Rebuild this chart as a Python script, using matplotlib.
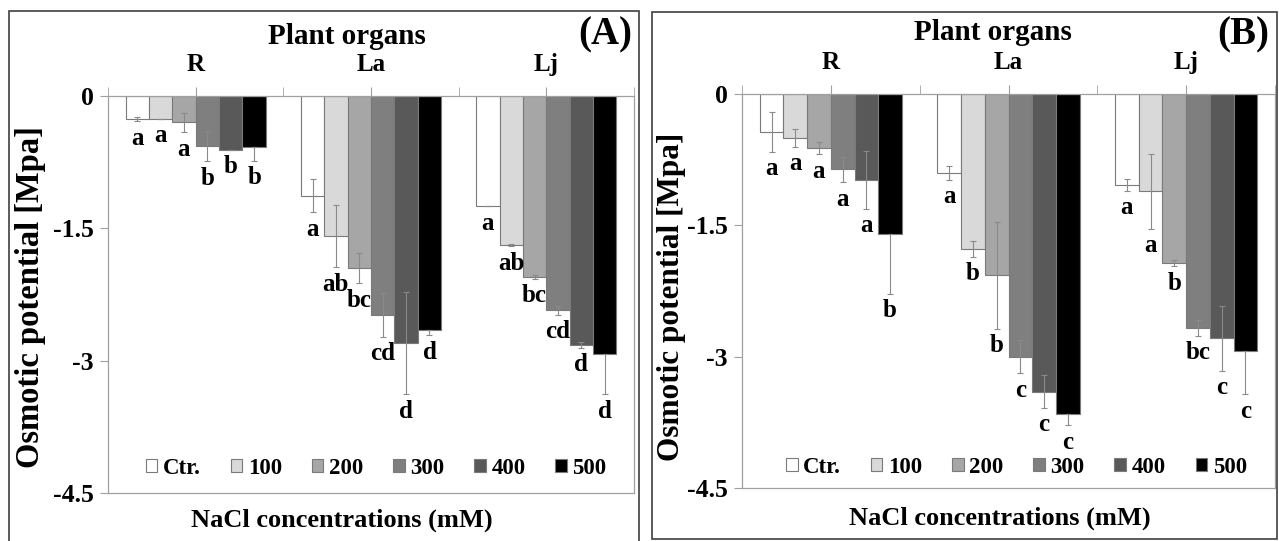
import matplotlib
matplotlib.use("Agg")
import matplotlib.pyplot as plt
from matplotlib.patches import Rectangle, Patch
import numpy as np

plt.rcParams['font.family'] = ['Liberation Serif', 'DejaVu Serif']
plt.rcParams['font.weight'] = 'bold'

groups = ['R', 'La', 'Lj']
conc = ['Ctr.', '100', '200', '300', '400', '500']
colors = ['#ffffff', '#d9d9d9', '#a6a6a6', '#7f7f7f', '#595959', '#000000']

# panel A: values per organ (Ctr..500), error, letters
a_R = [-0.26, -0.26, -0.30, -0.57, -0.61, -0.58]
a_La = [-1.13, -1.59, -1.95, -2.48, -2.80, -2.65]
a_Lj = [-1.25, -1.69, -2.05, -2.43, -2.82, -2.92]
a_R_err = [0.025, 0.0, 0.11, 0.17, 0.0, 0.155]
a_La_err = [0.19, 0.35, 0.17, 0.25, 0.58, 0.06]
a_Lj_err = [0.0, 0.01, 0.02, 0.047, 0.034, 0.46]
a_R_let = ['a', 'a', 'a', 'b', 'b', 'b']
a_La_let = ['a', 'ab', 'bc', 'cd', 'd', 'd']
a_Lj_let = ['a', 'ab', 'bc', 'cd', 'd', 'd']

# panel B
b_R = [-0.43, -0.50, -0.62, -0.86, -0.98, -1.60]
b_La = [-0.90, -1.77, -2.07, -3.00, -3.40, -3.66]
b_Lj = [-1.04, -1.11, -1.93, -2.67, -2.79, -2.93]
b_R_err = [0.23, 0.10, 0.07, 0.145, 0.33, 0.68]
b_La_err = [0.08, 0.09, 0.61, 0.19, 0.185, 0.125]
b_Lj_err = [0.065, 0.43, 0.034, 0.09, 0.37, 0.50]
b_R_let = ['a', 'a', 'a', 'a', 'a', 'b']
b_La_let = ['a', 'b', 'b', 'c', 'c', 'c']
b_Lj_let = ['a', 'a', 'b', 'bc', 'c', 'c']

yticks = [0, -1.5, -3, -4.5]
ytick_labels = ['0', '-1.5', '-3', '-4.5']

W, H = 1279, 541
fig = plt.figure(figsize=(W / 100, H / 100), dpi=100)

grey = '#a0a0a0'


def draw_panel(ax, vals, errs, lets):
    w = 0.8 / len(conc)
    xc = np.arange(len(groups)) + 0.5
    for j, c in enumerate(conc):
        x = xc + (j - 2.5) * w
        v = [vals[g][j] for g in range(len(groups))]
        e = np.array([errs[g][j] for g in range(len(groups))])
        ax.bar(x, v, w, color=colors[j], edgecolor='#7a7a7a', linewidth=0.8,
               label=c, zorder=2)
        up = e if j < 5 else np.zeros_like(e)
        ax.errorbar(x, v, yerr=[e, up], fmt='none', ecolor='#8a8a8a',
                    elinewidth=0.8, capsize=2, capthick=0.8, zorder=3)
        for g in range(len(groups)):
            ax.annotate(lets[g][j], (x[g], v[g] - e[g]), xytext=(0, -4),
                        textcoords='offset points', ha='center', va='top',
                        fontsize=18, fontweight='bold')
    ax.set_xlim(0, len(groups))
    ax.set_ylim(-4.5, 0)
    ax.set_yticks(yticks)
    ax.set_yticklabels(ytick_labels, fontsize=18.5, fontweight='bold')
    ax.xaxis.tick_top()
    ax.set_xticks(xc)
    ax.set_xticklabels(groups, fontsize=18, fontweight='bold')
    ax.set_xticks(np.arange(len(groups) + 1), minor=True)
    ax.tick_params(axis='x', which='both', direction='out', length=6.5,
                   color=grey, pad=8)
    ax.tick_params(axis='y', direction='out', length=6, color=grey, pad=4.5)
    for s in ['top', 'bottom', 'left', 'right']:
        ax.spines[s].set_color(grey)
        ax.spines[s].set_linewidth(0.9)
    handles = [Patch(facecolor=colors[j], edgecolor='#7a7a7a', linewidth=0.8)
               for j in range(len(conc))]
    return handles


def px_axes(l, r, t, b):
    return fig.add_axes([l / W, 1 - b / H, (r - l) / W, (b - t) / H])


# panel frames
fig.patches.append(Rectangle((9 / W, 1 - 545 / H), 630 / W, 534 / H,
                             transform=fig.transFigure, fill=False,
                             edgecolor='#404040', linewidth=1.2))
fig.patches.append(Rectangle((652 / W, 1 - 539 / H), 625 / W, 527 / H,
                             transform=fig.transFigure, fill=False,
                             edgecolor='#404040', linewidth=1.2))

leg_kw = dict(loc='center', ncol=6, frameon=False, fontsize=16.5,
              handlelength=0.5, handleheight=0.5, handletextpad=0.25,
              columnspacing=1.3)

axA = px_axes(108, 634, 96, 493)
hA = draw_panel(axA, [a_R, a_La, a_Lj], [a_R_err, a_La_err, a_Lj_err],
                [a_R_let, a_La_let, a_Lj_let])
axA.legend(hA, conc, bbox_to_anchor=(0.51, 0.062), **leg_kw)

axB = px_axes(742, 1275, 94, 488)
hB = draw_panel(axB, [b_R, b_La, b_Lj], [b_R_err, b_La_err, b_Lj_err],
                [b_R_let, b_La_let, b_Lj_let])
axB.legend(hB, conc, bbox_to_anchor=(0.515, 0.053), **leg_kw)

# titles and labels
for xt, xl, tag, xtag, yl_x, yl_fs, xlab_x, xlab_y in [
        (347, 36, '(A)', 605, 31, 23.5, 342, 520),
        (993, 33, '(B)', 1243, 672, 22.5, 1000, 518)]:
    fig.text(xt / W, 1 - xl / H, 'Plant organs', ha='center', va='center',
             fontsize=21, fontweight='bold')
    fig.text(xtag / W, 1 - 35 / H, tag, ha='center', va='center',
             fontsize=28, fontweight='bold')
    fig.text(yl_x / W, 1 - 297 / H, 'Osmotic potential [Mpa]', rotation=90,
             ha='center', va='center', fontsize=yl_fs, fontweight='bold')
    fig.text(xlab_x / W, 1 - xlab_y / H, 'NaCl concentrations (mM)',
             ha='center', va='center', fontsize=19, fontweight='bold')

fig.savefig('out.png', dpi=100)
